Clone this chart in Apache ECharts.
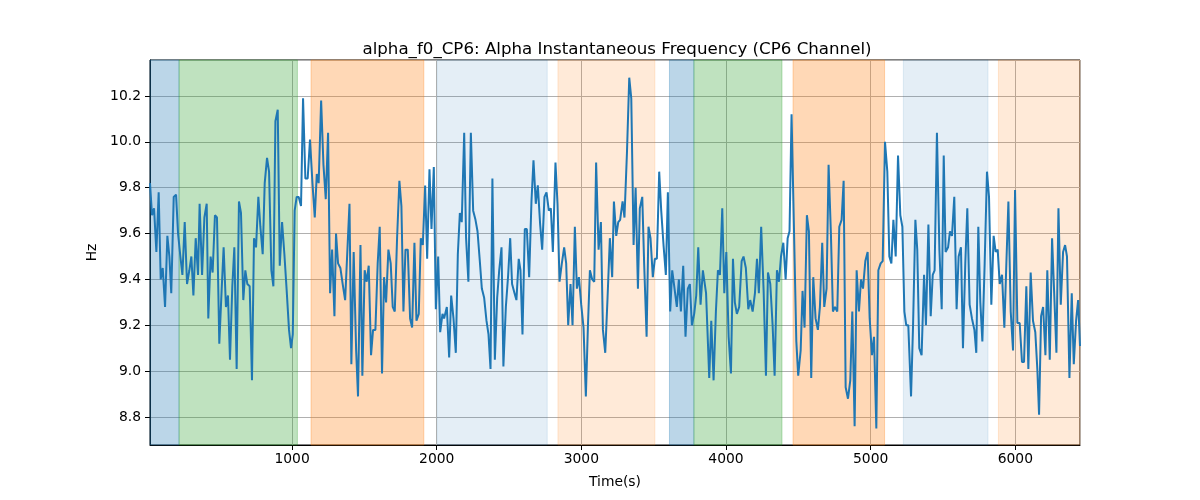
<!DOCTYPE html>
<html>
<head>
<meta charset="utf-8">
<script src="https://cdn.jsdelivr.net/npm/echarts@6/dist/echarts.min.js"></script>
<style>html,body{margin:0;padding:0;background:#fff}#c{width:1200px;height:500px}</style>
</head>
<body>
<div id="c"></div>
<script>
const times = [18,32,46,62,78,92,106,122,138,152,165,182,198,212,228,242,258,274,290,304,318,334,350,361,378,394,410,421,437,451,467,481,497,513,527,543,557,571,587,601,617,633,647,663,
677,691,707,723,737,751,767,781,797,811,827,841,857,871,885,901,915,931,947,963,979,993,1005,1018,1032,1046,1062,1076,1092,1108,1124,1141,1157,1171,1184,1201,1217,1233,1249,1263,1277,1293,1304,
1318,1334,1350,1367,1380,1397,1410,1426,1443,1456,1473,1486,1502,1516,1530,1546,1560,1576,1592,1606,1622,1636,1650,1666,1682,1696,1710,1726,1742,1756,1770,1784,1800,1816,1830,1846,1860,1876,1890,1904,1920,1934,
1950,1964,1980,1994,2010,2024,2040,2051,2070,2086,2100,2116,2132,2146,2160,2173,2190,2203,2219,2236,2252,2268,2282,2298,2312,2328,2344,2358,2372,2385,2402,2418,2432,2448,2461,2478,2494,2508,2521,2538,2551,2567,
2579,2593,2609,2623,2639,2655,2669,2685,2699,2715,2729,2745,2759,2775,2789,2803,2821,2835,2849,2865,2881,2895,2909,2925,2939,2955,2969,2983,2999,3015,3031,3045,3059,3075,3089,3102,3119,3135,3149,3165,3181,3197,3213,
3225,3241,3255,3268,3285,3298,3315,3331,3345,3361,3375,3391,3404,3421,3434,3451,3464,3478,3494,3508,3522,3538,3552,3568,3584,3598,3614,3628,3644,3660,3674,3688,3704,3720,3736,3750,3764,3780,3794,3808,3824,3840,
3862,3884,3898,3914,3930,3944,3958,3974,3988,4002,4018,4034,4048,4061,4075,4091,4108,4121,4137,4154,4167,4184,4200,4214,4227,4243,4260,4276,4290,4306,4322,4336,4352,4366,4380,4396,4412,4426,4439,4453,
4486,4499,4516,4529,4543,4559,4573,4589,4603,4619,4635,4649,4665,4679,4695,4709,4725,4739,4753,4769,4783,4799,4813,4827,4843,4859,4873,4889,4903,4919,4933,4947,4963,4979,4993,5009,5023,5039,5053,5069,5083,5099,5115,
5129,5143,5157,5173,5189,5205,5219,5233,5246,5260,5279,5293,5309,5322,5336,5352,5369,5382,5399,5415,5429,5442,5458,5475,5491,5505,5518,5535,5548,5562,5578,5594,5608,5624,5638,5654,5668,5684,5700,5717,5730,5744,5758,
5772,5788,5804,5818,5834,5850,5864,5878,5892,5908,5924,5938,5952,5968,5984,5998,6014,6030,6046,6060,6076,6090,6106,6122,6138,6152,6164,6178,6192,6208,6221,6238,6254,6268,6284,6298,6314,6330,6344,6357,6374,6390,6404,6420,6434,6447];

const hz = [9.82,9.68,9.71,9.52,9.78,9.40,9.45,9.28,9.59,9.50,9.34,9.76,9.77,9.60,9.50,9.42,9.65,9.38,9.44,9.50,9.33,9.58,9.42,9.73,9.42,9.67,9.73,9.23,9.50,9.43,9.68,9.67,9.12,9.35,9.54,9.28,9.33,9.05,9.37,9.54,9.01,9.74,9.69,9.31,
9.44,9.38,9.37,8.96,9.58,9.54,9.76,9.63,9.51,9.82,9.93,9.87,9.44,9.37,10.09,10.14,9.46,9.65,9.51,9.35,9.18,9.10,9.16,9.70,9.76,9.76,9.72,10.19,9.84,9.84,10.01,9.82,9.67,9.86,9.82,10.18,9.90,9.75,10.04,9.34,9.53,9.24,9.60,
9.47,9.45,9.38,9.31,9.31,9.73,9.03,9.52,9.09,8.89,9.55,8.98,9.44,9.39,9.46,9.07,9.18,9.18,9.47,9.63,8.99,9.41,9.30,9.53,9.47,9.28,9.26,9.58,9.83,9.72,9.26,9.53,9.53,9.23,9.19,9.56,9.22,9.25,9.58,9.55,9.81,9.49,
9.88,9.62,9.89,9.27,9.50,9.17,9.25,9.23,9.28,9.06,9.33,9.23,9.08,9.51,9.69,9.65,10.04,9.58,9.39,10.04,9.70,9.66,9.61,9.48,9.36,9.32,9.22,9.16,9.01,9.84,9.05,9.32,9.44,9.54,9.02,9.28,9.42,9.58,9.38,9.34,9.31,9.49,
9.44,9.16,9.62,9.62,9.41,9.74,9.92,9.73,9.81,9.64,9.53,9.76,9.78,9.70,9.71,9.52,9.91,9.73,9.39,9.47,9.54,9.47,9.20,9.38,9.20,9.63,9.36,9.41,9.29,9.19,8.89,9.19,9.44,9.40,9.39,9.91,9.53,9.65,9.18,9.08,9.32,9.58,9.41,
9.74,9.59,9.65,9.66,9.74,9.67,9.95,10.28,10.19,9.55,9.80,9.36,9.71,9.76,9.47,9.15,9.63,9.58,9.41,9.49,9.49,9.87,9.70,9.55,9.42,9.78,9.26,9.44,9.36,9.28,9.40,9.26,9.46,9.15,9.36,9.38,9.20,9.25,9.33,9.54,9.29,9.44,
9.34,8.97,9.22,8.96,9.26,9.44,9.42,9.71,9.34,9.52,9.15,8.99,9.49,9.30,9.25,9.28,9.48,9.50,9.45,9.27,9.31,9.26,9.34,9.49,9.34,9.63,9.35,8.98,9.43,9.38,9.20,8.98,9.44,9.39,9.50,9.56,9.40,9.58,9.61,10.12,
9.13,8.98,9.09,9.35,9.19,9.68,9.61,8.97,9.41,9.23,9.18,9.28,9.56,9.28,9.36,9.90,9.60,9.26,9.28,9.26,9.63,9.66,9.83,8.93,8.88,8.96,9.26,8.76,9.44,9.26,9.40,9.36,9.48,9.52,9.23,9.07,9.15,8.75,9.44,9.47,9.48,10.00,9.87,
9.50,9.47,9.66,9.50,9.94,9.68,9.63,9.26,9.20,9.20,8.89,9.20,9.66,9.53,9.10,9.07,9.42,9.20,9.64,9.24,9.42,9.44,10.04,9.53,9.27,9.94,9.52,9.54,9.61,9.59,9.76,9.27,9.50,9.54,9.10,9.47,9.71,9.29,9.23,9.18,9.08,9.63,9.30,
9.13,9.47,9.87,9.76,9.29,9.59,9.52,9.53,9.38,9.42,9.19,9.47,9.74,9.26,9.09,9.79,9.21,9.21,9.04,9.04,9.37,9.01,9.43,9.22,9.17,9.01,8.81,9.24,9.28,9.07,9.44,9.05,9.58,9.35,9.08,9.71,9.29,9.52,9.55,9.50,8.97,9.34,9.03,9.22,9.31,9.11];

const bandStart = [18, 219, 1131, 2004, 2838, 3609, 3778, 4463, 5226, 5883];
const bandEnd   = [219, 1037, 1911, 2764, 3508, 3778, 4387, 5096, 5811, 6447];
const bandKind  = [0, 1, 2, 3, 4, 0, 1, 2, 3, 4];

const titleText = 'alpha_f0_CP6: Alpha Instantaneous Frequency (CP6 Channel)';
const xName = 'Time(s)';
const yName = 'Hz';

// styles
const kindColor = ['rgba(31,119,180,0.3)', 'rgba(44,160,44,0.3)', 'rgba(255,127,14,0.3)',
                   'rgba(31,119,180,0.12)', 'rgba(255,127,14,0.16)'];
const FONT = 'DejaVu Sans';

const lineData = times.map((t, i) => [t, hz[i]]);
const areas = bandStart.map((s, i) => [
  { xAxis: s, itemStyle: { color: kindColor[bandKind[i]], borderColor: kindColor[bandKind[i]], borderWidth: 1 } },
  { xAxis: bandEnd[i] }
]);

const chart = echarts.init(document.getElementById('c'), null, { renderer: 'canvas' });
chart.setOption({
  animation: false,
  backgroundColor: '#fff',
  title: {
    text: titleText, left: 612, textAlign: 'center', top: 36,
    textStyle: { fontFamily: FONT, fontSize: 16.67, fontWeight: 'normal', color: '#000' }
  },
  grid: { left: 150, right: 120, top: 60, bottom: 55, show: true, borderColor: '#000', borderWidth: 1, backgroundColor: 'transparent' },
  xAxis: {
    type: 'value', min: 18, max: 6447, minInterval: 1000, maxInterval: 1000,
    name: xName, nameLocation: 'middle', nameGap: 30,
    nameTextStyle: { fontFamily: FONT, fontSize: 13.89, color: '#000' },
    axisLine: { show: true, lineStyle: { color: '#000', width: 1 } },
    axisTick: { show: true, length: 5, lineStyle: { color: '#000' } },
    axisLabel: { fontFamily: FONT, fontSize: 13.89, color: '#000', margin: 7,
      formatter: v => (Math.abs(v % 1000) < 1e-6 ? String(Math.round(v)) : '') , showMinLabel: false, showMaxLabel: false },
    splitLine: { show: true, lineStyle: { color: '#b0b0b0', width: 1 } }
  },
  yAxis: {
    type: 'value', min: 8.678, max: 10.357, minInterval: 0.2, maxInterval: 0.2,
    name: yName, nameLocation: 'middle', nameGap: 46, nameRotate: 90,
    nameTextStyle: { fontFamily: FONT, fontSize: 13.89, color: '#000' },
    axisLine: { show: true, lineStyle: { color: '#000', width: 1 } },
    axisTick: { show: true, length: 5, lineStyle: { color: '#000' } },
    axisLabel: { fontFamily: FONT, fontSize: 13.89, color: '#000', margin: 9,
      formatter: v => v.toFixed(1), showMinLabel: false, showMaxLabel: false },
    splitLine: { show: true, lineStyle: { color: '#b0b0b0', width: 1 } }
  },
  series: [
    {
      type: 'line', data: lineData, z: 1, silent: true, showSymbol: false,
      lineStyle: { width: 0, opacity: 0 },
      markArea: { silent: true, data: areas }
    },
    {
      type: 'line', data: lineData, z: 3, showSymbol: false, symbol: 'none',
      lineStyle: { color: '#1f77b4', width: 2 }
    }
  ]
});
</script>
</body>
</html>
